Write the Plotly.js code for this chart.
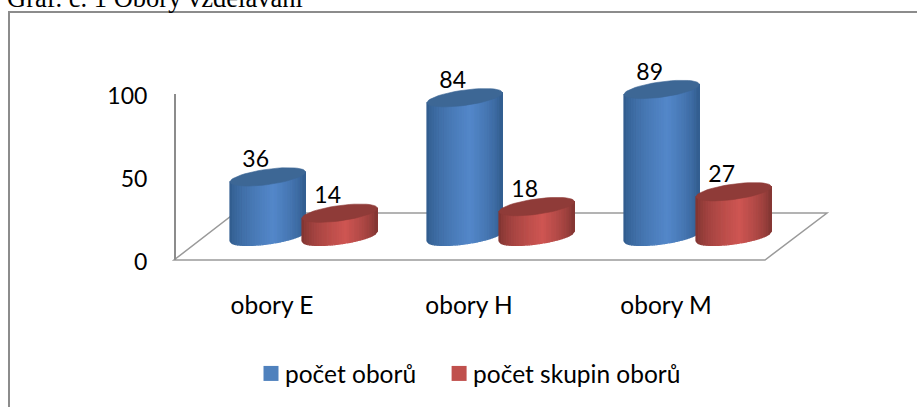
<!DOCTYPE html>
<html><head><meta charset="utf-8">
<script src="https://cdn.plot.ly/plotly-3.0.1.min.js"></script>
<style>html,body{margin:0;padding:0;background:#fff;overflow:hidden}#c{width:917px;height:407px}</style>
</head><body><div id="c"></div>
<script>
const categories = ['obory E', 'obory H', 'obory M'];
const seriesNames = ['počet oborů', 'počet skupin oborů'];
const poctyOboru = [36, 84, 89];
const poctySkupin = [14, 18, 27];
const yTicks = [0, 50, 100];
const chartTitle = 'Graf. č. 1 Obory vzdělávání';

const W = 917, H = 407, FONT = 'Lato, sans-serif';
const pxPerCat = 197, pxPerVal = 1.65;
const halfW = 37.7 / pxPerCat, groupOff = 36 / pxPerCat;
const shear = 5 / pxPerVal, semi = 7.7 / pxPerVal;
const BANDS = 30;

function shade(stops, t) {
  const peak = 0.58;
  const k = t < peak ? t / peak : (1 - t) / (1 - peak);
  const f = Math.pow(k, 0.6);
  const c = stops[0].map((a, i) => Math.round(a + (stops[1][i] - a) * f));
  return `rgb(${c[0]},${c[1]},${c[2]})`;
}

function cylinderTraces(values, off, edgeMid, topColor) {
  const out = [];
  for (let j = 0; j < BANDS; j++) {
    const u1 = -1 + 2 * j / BANDS, u2 = -1 + 2 * (j + 1) / BANDS;
    const xs = [], ys = [];
    values.forEach((v, i) => {
      const cx = i + off;
      const bot = u => shear * u - semi * Math.sqrt(Math.max(0, 1 - u * u));
      xs.push(cx + u1 * halfW, cx + u2 * halfW, cx + u2 * halfW, cx + u1 * halfW, cx + u1 * halfW, null);
      ys.push(bot(u1), bot(u2), v + shear * u2, v + shear * u1, bot(u1), null);
    });
    const col = shade(edgeMid, (j + 0.5) / BANDS);
    out.push({type: 'scatter', mode: 'lines', x: xs, y: ys, xaxis: 'x2', yaxis: 'y2', fill: 'toself',
      fillcolor: col, line: {color: col, width: 1.2}, hoverinfo: 'skip', showlegend: false});
  }
  const xs = [], ys = [];
  values.forEach((v, i) => {
    const cx = i + off;
    for (let a = 0; a <= 48; a++) {
      const t = a / 48 * 2 * Math.PI;
      xs.push(cx + Math.cos(t) * halfW);
      ys.push(v + shear * Math.cos(t) + semi * Math.sin(t));
    }
    xs.push(null); ys.push(null);
  });
  out.push({type: 'scatter', mode: 'lines', x: xs, y: ys, xaxis: 'x2', yaxis: 'y2', fill: 'toself',
    fillcolor: topColor, line: {color: topColor, width: 0.6}, hoverinfo: 'skip', showlegend: false});
  return out;
}

function labelTrace(values, off) {
  return {type: 'scatter', mode: 'text', xaxis: 'x2', yaxis: 'y2',
    x: values.map((v, i) => i + off - 12 / pxPerCat),
    y: values.map(v => v + 15.5 / pxPerVal),
    text: values.map(String), textposition: 'middle center',
    textfont: {family: FONT, size: 23, color: '#000'}, hoverinfo: 'skip', showlegend: false};
}

function legendTrace(name, color) {
  return {type: 'scatter', mode: 'markers', x: [null], y: [null], name,
    marker: {symbol: 'square', size: 15, color}, hoverinfo: 'skip'};
}

const data = [
  ...cylinderTraces(poctyOboru, -groupOff, [[46, 88, 136], [83, 135, 201]], '#3d6795'),
  labelTrace(poctyOboru, -groupOff),
  ...cylinderTraces(poctySkupin, groupOff, [[122, 50, 47], [206, 85, 82]], '#8f3b38'),
  labelTrace(poctySkupin, groupOff),
  legendTrace(seriesNames[0], '#4f81bd'),
  legendTrace(seriesNames[1], '#c0504d')
];

const px = x => x / W, py = y => 1 - y / H;
const grey = '#8c8c8c';
const layout = {
  width: W, height: H, margin: {l: 0, r: 0, t: 0, b: 0},
  paper_bgcolor: '#fff', plot_bgcolor: 'rgba(0,0,0,0)',
  title: {text: chartTitle, xref: 'paper', yref: 'container', x: 7 / W, xanchor: 'left',
    y: 1 - 7 / H, yanchor: 'bottom', font: {family: '"Liberation Serif", serif', size: 26.5, color: '#000'}},
  showlegend: true,
  legend: {orientation: 'h', x: 245 / W, xanchor: 'left', y: py(351), yanchor: 'top',
    font: {family: FONT, size: 24.5, color: '#000'}, bgcolor: 'rgba(0,0,0,0)', itemclick: false},
  xaxis: {domain: [0, 1], range: [-272 / pxPerCat, (W - 272) / pxPerCat], tickmode: 'array',
    tickvals: [0, 1, 2], ticktext: categories, showgrid: false, zeroline: false, showline: false,
    ticks: 'outside', ticklen: 24, tickcolor: 'rgba(0,0,0,0)', anchor: 'y',
    tickfont: {family: FONT, size: 24.5, color: '#000'}},
  yaxis: {domain: [py(260), py(94)], range: [0, 100], tickmode: 'array', tickvals: yTicks,
    showgrid: false, zeroline: false, showline: true, linecolor: grey, linewidth: 1.5,
    anchor: 'free', position: px(174), ticks: 'outside', ticklen: 22, tickcolor: 'rgba(0,0,0,0)',
    ticklabelshift: 2, tickfont: {family: FONT, size: 23, color: '#000'}},
  xaxis2: {domain: [0, 1], range: [-303.7 / pxPerCat, (W - 303.7) / pxPerCat], visible: false, anchor: 'y2'},
  yaxis2: {domain: [0, 1], range: [-(H - 236.3) / pxPerVal, 236.3 / pxPerVal], visible: false, anchor: 'x2'},
  shapes: [
    {type: 'path', xref: 'paper', yref: 'paper', layer: 'below', line: {color: grey, width: 2},
      path: `M${px(9)},${py(407)} L${px(9)},${py(12)} L1,${py(12)}`},
    {type: 'path', xref: 'paper', yref: 'paper', layer: 'below', line: {color: '#9a9a9a', width: 1.5},
      path: `M${px(174)},${py(260)} L${px(765)},${py(260)} L${px(827)},${py(213)} L${px(235)},${py(213)} Z`}
  ]
};
Plotly.newPlot('c', data, layout, {displayModeBar: false, staticPlot: true}).then(() => {
  document.querySelectorAll('.legend .legendpoints').forEach(g => g.setAttribute('transform', 'translate(6,0)'));
  const box = document.querySelector('.legend .scrollbox');
  if (box) box.removeAttribute('clip-path');
  const entries = document.querySelectorAll('.legend .traces');
  if (entries[1]) {
    const m = /translate\(([-\d.]+)[ ,]+([-\d.]+)\)/.exec(entries[1].getAttribute('transform'));
    if (m) entries[1].setAttribute('transform', `translate(${+m[1] + 12},${m[2]})`);
  }
});
</script></body></html>
